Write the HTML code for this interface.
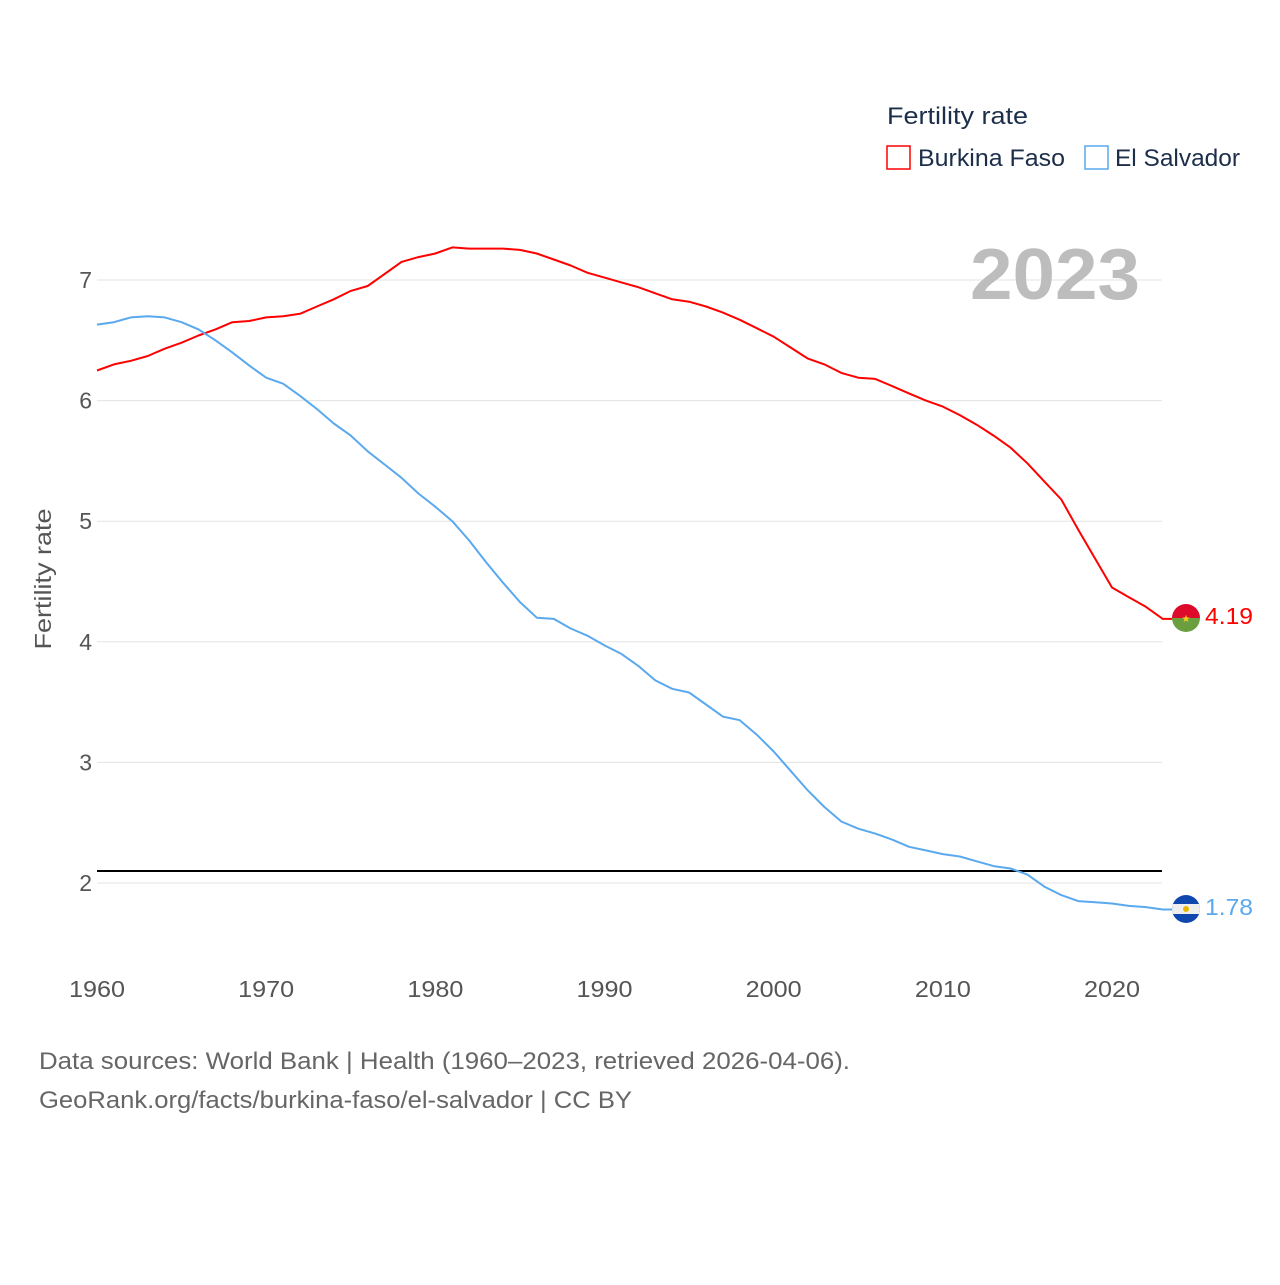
<!DOCTYPE html>
<html><head><meta charset="utf-8"><style>
body{margin:0;background:#fff;font-family:"Liberation Sans",sans-serif;}
svg text{font-family:"Liberation Sans",sans-serif;}
</style></head><body>
<svg id="chart" width="1280" height="1280" xmlns="http://www.w3.org/2000/svg">
<g id="grid"></g>
<g id="yticks"></g>
<g id="xticks"></g>
<text transform="translate(51,579) rotate(-90)" text-anchor="middle" font-size="23" fill="#555" textLength="141" lengthAdjust="spacingAndGlyphs">Fertility rate</text>
<text x="1140" y="299" text-anchor="end" font-size="72" font-weight="bold" fill="#bdbdbd" textLength="170" lengthAdjust="spacingAndGlyphs">2023</text>
<line x1="97" x2="1162" y1="871" y2="871" stroke="#000" stroke-width="2"/>
<g id="series"></g>
<g>
<text x="887" y="124" font-size="24" fill="#1c2e4a" textLength="141" lengthAdjust="spacingAndGlyphs">Fertility rate</text>
<rect x="887" y="146" width="23" height="23" fill="none" stroke="#f00" stroke-width="1.5"/>
<text x="918" y="166" font-size="24" fill="#1c2e4a" textLength="147" lengthAdjust="spacingAndGlyphs">Burkina Faso</text>
<rect x="1085" y="146" width="23" height="23" fill="none" stroke="#5aa9ee" stroke-width="1.5"/>
<text x="1115" y="166" font-size="24" fill="#1c2e4a" textLength="125" lengthAdjust="spacingAndGlyphs">El Salvador</text>
</g>
<g>
<clipPath id="c1"><circle cx="1186" cy="618" r="14"/></clipPath>
<g clip-path="url(#c1)"><rect x="1172" y="604" width="28" height="14" fill="#de0a2b"/><rect x="1172" y="618" width="28" height="14" fill="#6a9e3f"/></g>
<text x="1186" y="622" text-anchor="middle" font-size="10" fill="#f7d117">★</text>
</g>
<g>
<clipPath id="c2"><circle cx="1186" cy="909" r="14"/></clipPath>
<g clip-path="url(#c2)"><rect x="1172" y="895" width="28" height="28" fill="#0f47af"/><rect x="1172" y="904" width="28" height="10" fill="#eee"/></g>
<circle cx="1186" cy="909" r="3" fill="#e6b800"/>
</g>
<text x="1205" y="624" font-size="23" fill="#f00" textLength="48" lengthAdjust="spacingAndGlyphs">4.19</text>
<text x="1205" y="915" font-size="23" fill="#5aa9ee" textLength="48" lengthAdjust="spacingAndGlyphs">1.78</text>
<text x="39" y="1069" font-size="24" fill="#666" textLength="811" lengthAdjust="spacingAndGlyphs">Data sources: World Bank | Health (1960–2023, retrieved 2026-04-06).</text>
<text x="39" y="1108" font-size="24" fill="#666" textLength="593" lengthAdjust="spacingAndGlyphs">GeoRank.org/facts/burkina-faso/el-salvador | CC BY</text>
</svg>
<script>
const years=[];for(let y=1960;y<=2023;y++)years.push(y);
const burkina=[6.25,6.30,6.33,6.37,6.43,6.48,6.54,6.59,6.65,6.66,6.69,6.70,6.72,6.78,6.84,6.91,6.95,7.05,7.15,7.19,7.22,7.27,7.26,7.26,7.26,7.25,7.22,7.17,7.12,7.06,7.02,6.98,6.94,6.89,6.84,6.82,6.78,6.73,6.67,6.60,6.53,6.44,6.35,6.30,6.23,6.19,6.18,6.12,6.06,6.00,5.95,5.88,5.80,5.71,5.61,5.48,5.33,5.18,4.93,4.69,4.45,4.37,4.29,4.19];
const salvador=[6.63,6.65,6.69,6.70,6.69,6.65,6.59,6.50,6.40,6.29,6.19,6.14,6.04,5.93,5.81,5.71,5.58,5.47,5.36,5.23,5.12,5.00,4.84,4.66,4.49,4.33,4.20,4.19,4.11,4.05,3.97,3.90,3.80,3.68,3.61,3.58,3.48,3.38,3.35,3.23,3.09,2.93,2.77,2.63,2.51,2.45,2.41,2.36,2.30,2.27,2.24,2.22,2.18,2.14,2.12,2.07,1.97,1.90,1.85,1.84,1.83,1.81,1.80,1.78];
const yTicks=[2,3,4,5,6,7];
const xTicks=[1960,1970,1980,1990,2000,2010,2020];
const NS="http://www.w3.org/2000/svg";
const X=y=>97+(y-1960)*(1112-97)/60;
const Y=v=>883-(v-2)*120.6;
function mk(t,a,p){const e=document.createElementNS(NS,t);for(const k in a)e.setAttribute(k,a[k]);p.appendChild(e);return e;}
const grid=document.getElementById('grid'),yt=document.getElementById('yticks'),xt=document.getElementById('xticks'),sr=document.getElementById('series');
yTicks.forEach(v=>{
 const l=mk('line',{x1:97,x2:1162,y1:Y(v),y2:Y(v),stroke:'#e3e3e3','stroke-width':1},grid);
 
 
 const t=mk('text',{x:92,y:Y(v)+8,'text-anchor':'end','font-size':23,fill:'#555'},yt);t.textContent=v;
 
 
});
xTicks.forEach(v=>{
 const t=mk('text',{x:X(v),y:997,'text-anchor':'middle','font-size':23,fill:'#555',textLength:56,lengthAdjust:'spacingAndGlyphs'},xt);t.textContent=v;
 
 
});
function line(data,color,name){
 let d=data.map((v,i)=>(i?'L':'M')+X(years[i]).toFixed(1)+','+Y(v).toFixed(1)).join('');
 d+='L1186,'+Y(data[data.length-1]).toFixed(1);
 const p=mk('path',{d:d,fill:'none',stroke:color,'stroke-width':2,'stroke-linejoin':'round'},sr);
 
 
}
line(burkina,'#f00','line-burkina-faso');
line(salvador,'#5aa9ee','line-el-salvador');
</script>
</body></html>
